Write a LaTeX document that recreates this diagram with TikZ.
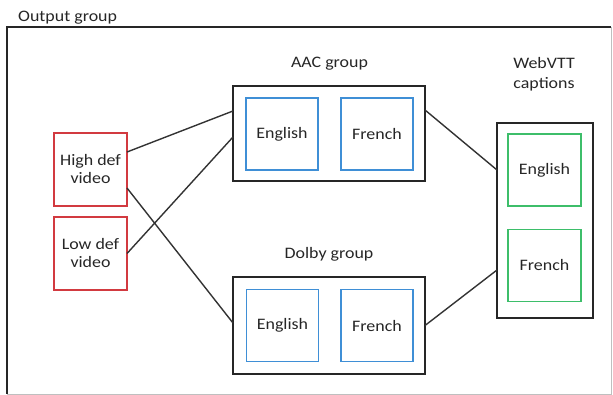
\documentclass[tikz,border=0pt]{standalone}
\usepackage{fontspec}
\setmainfont{Carlito}[FakeStretch=1.12]
\definecolor{boxred}{HTML}{D23A40}
\definecolor{boxblue}{HTML}{3F8FD6}
\definecolor{boxgreen}{HTML}{3DBE6A}
\definecolor{txt}{HTML}{262626}
\tikzset{
  basebox/.style={inner sep=0pt, outer sep=0pt, line width=1.8pt, text=txt, align=center,
    font=\fontsize{16}{18}\selectfont},
  grpbox/.style={basebox, draw=black!85},
  vidbox/.style={basebox, draw=boxred, minimum width=73pt, minimum height=73pt},
  audbox/.style={basebox, draw=boxblue, minimum width=72pt, minimum height=72pt},
  capbox/.style={basebox, draw=boxgreen, minimum width=73pt, minimum height=72pt},
  lblnode/.style={inner sep=0pt, text=txt, align=center, font=\fontsize{16}{20}\selectfont},
  connline/.style={line width=1.4pt, draw=black!80},
}
\begin{document}
\begin{tikzpicture}[x=1pt,y=-1pt]
\useasboundingbox (0,0) rectangle (613,395);
% outer group
\node[inner sep=0pt, outer sep=0pt, minimum width=604pt, minimum height=367pt] (out) at (309,210.5) {};
\draw[line width=1.8pt, black!85] (out.south west) -- (out.north west) -- (out.north east);
\draw[line width=1pt, black!25] (out.north east) -- (out.south east) -- (out.south west);
\node[lblnode, anchor=base west] (outlbl) at (18,22) {Output group};
% video
\node[vidbox] (hd) at (90.5,169.5) {High def\\video};
\node[vidbox] (ld) at (90.5,253.5) {Low def\\video};
% AAC group
\node[grpbox, minimum width=192pt, minimum height=95pt] (aac) at (329,133.5) {};
\node[lblnode] (aaclbl) at (329.5,64) {AAC group};
\node[audbox] (aacen) at (282,134) {English};
\node[audbox] (aacfr) at (377,134) {French};
% Dolby group
\node[grpbox, minimum width=192pt, minimum height=97pt] (dolby) at (329,325.5) {};
\node[lblnode] (dolbylbl) at (329,254.5) {Dolby group};
\node[audbox] (dben) at (282.5,325.5) {English};
\node[audbox] (dbfr) at (377,325.5) {French};
% WebVTT
\node[grpbox, minimum width=96pt, minimum height=195pt] (web) at (545,220.5) {};
\node[lblnode] (weblbl) at (544,74) {WebVTT\\captions};
\node[capbox] (weben) at (544.5,170) {English};
\node[capbox] (webfr) at (544.5,265.5) {French};
% connectors
\draw[connline] ([yshift=17.5pt]hd.east) -- ([yshift=22.5pt]aac.west);
\draw[connline] (ld.east) -- ([yshift=-3.5pt]aac.west);
\draw[connline] ([yshift=-18.5pt]hd.east) -- ([yshift=2.5pt]dolby.west);
\draw[connline] ([yshift=23.5pt]aac.east) -- ([yshift=50.5pt]web.west);
\draw[connline] (dolby.east) -- ([yshift=-49.5pt]web.west);
\end{tikzpicture}
\end{document}
